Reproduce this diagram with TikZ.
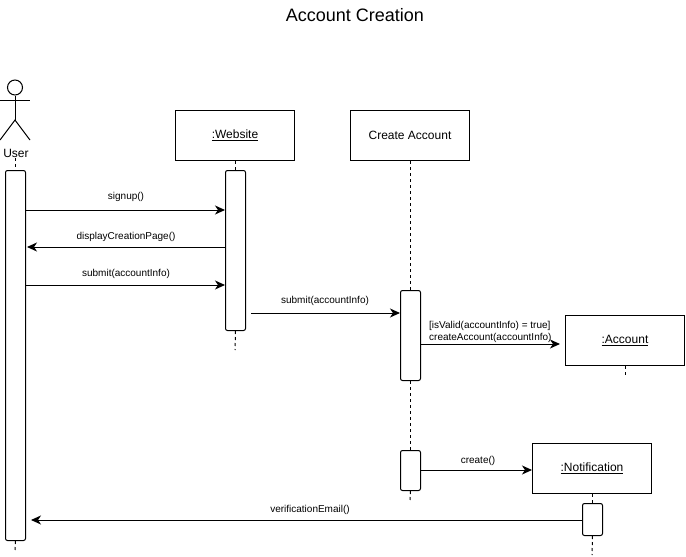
\documentclass[tikz,border=0pt]{standalone}
\usepackage{fontspec}
\setmainfont{Liberation Sans}
\usetikzlibrary{arrows.meta}
\definecolor{inkc}{HTML}{000000}
\tikzset{
  objbox/.style={draw=inkc,line width=1pt,fill=white,minimum width=119pt,minimum height=50pt,inner sep=0pt,anchor=north west,font=\fontsize{12}{14}\selectfont},
  actbar/.style={draw=inkc,line width=1pt,fill=white,rounded corners=2pt,minimum width=20pt,inner sep=0pt,anchor=north west},
  lifeline/.style={draw=inkc,line width=1pt,dash pattern=on 3pt off 3pt},
  msg/.style={draw=inkc,line width=1pt,-{Stealth[length=10pt,width=9pt,inset=3pt]}},
  msgtext/.style={inner sep=0pt,align=center,font=\fontsize{10}{12}\selectfont},
  actorline/.style={draw=inkc,line width=1pt}
}
\begin{document}
\begin{tikzpicture}[x=1pt,y=-1pt]
\useasboundingbox (0,0) rectangle (686,557);
\node[inner sep=0pt,font=\fontsize{18}{20}\selectfont] (title) at (355,15) {Account Creation};
% actor
\node[draw=inkc,line width=1pt,circle,minimum size=15pt,inner sep=0pt] (head) at (15,87.5) {};
\coordinate (hip) at (15,120);
\coordinate (armL) at (0,100);
\coordinate (armR) at (30,100);
\coordinate (legL) at (0,140);
\coordinate (legR) at (30,140);
\draw[actorline] (head.south) -- (hip);
\draw[actorline] (armL) -- (armR);
\draw[actorline] (legL) -- (hip) -- (legR);
\node[inner sep=0pt,font=\fontsize{12}{14}\selectfont] (user) at (16,153.5) {User};
% objects
\node[objbox] (website) at (175,110) {\raisebox{-0.7pt}{\underline{:Website}}};
\node[objbox] (create) at (350,110) {Create Account};
\node[objbox] (account) at (565,315) {\raisebox{-0.7pt}{\underline{:Account}}};
\node[objbox] (notif) at (532,443) {\raisebox{-0.7pt}{\underline{:Notification}}};
% free lifeline ends
\coordinate (uend) at (15,552);
\coordinate (wend) at (235,350);
\coordinate (cend) at (410,500);
\coordinate (aend) at (625,375);
\coordinate (nend) at (592,555);
% activation bars
\node[actbar,minimum height=370pt] (ubar) at (5,170) {};
\node[actbar,minimum height=160pt] (wbar) at (225,170) {};
\node[actbar,minimum height=90pt] (cbar1) at (400,290) {};
\node[actbar,minimum height=40pt] (cbar2) at (400,450) {};
\node[actbar,minimum height=32pt] (nbar) at (582,503) {};
% lifelines
\draw[lifeline] (user.south -| ubar.north) -- (ubar.north);
\draw[lifeline] (ubar.south) -- (uend);
\draw[lifeline] (website.south -| wbar.north) -- (wbar.north);
\draw[lifeline] (wbar.south) -- (wend);
\draw[lifeline] (create.south -| cbar1.north) -- (cbar1.north);
\draw[lifeline] (cbar1.south) -- (cbar2.north);
\draw[lifeline] (cbar2.south) -- (cend);
\draw[lifeline] (account.south) -- (aend);
\draw[lifeline] (notif.south -| nbar.north) -- (nbar.north);
\draw[lifeline] (nbar.south) -- (nend);
% messages
\draw[msg] (ubar.east |- 0,210) -- (wbar.west |- 0,210);
\node[msgtext] (l1) at (126,196.5) {signup()};
\draw[msg] (wbar.west |- 0,247) -- ([xshift=1pt]ubar.east |- 0,247);
\node[msgtext] (l2) at (126,236.5) {displayCreationPage()};
\draw[msg] (ubar.east |- 0,285) -- (wbar.west |- 0,285);
\node[msgtext] (l3) at (126,274) {submit(accountInfo)};
\draw[msg] ([xshift=5pt]wbar.east |- 0,313) -- (cbar1.west |- 0,313);
\node[msgtext] (l4) at (325,301) {submit(accountInfo)};
\draw[msg] (cbar1.east |- 0,344) -- ([xshift=-5pt]account.west |- 0,344);
\node[msgtext,anchor=west] (l5) at (429,325.5) {[isValid(accountInfo) = true]};
\node[msgtext,anchor=west] (l6) at (429,337.5) {createAccount(accountInfo)};
\draw[msg] (cbar2.east |- 0,470) -- (notif.west |- 0,470);
\node[msgtext] (l7) at (478,460.5) {create()};
\draw[msg] (nbar.west |- 0,520) -- ([xshift=5pt]ubar.east |- 0,520);
\node[msgtext] (l8) at (310,509.5) {verificationEmail()};
\end{tikzpicture}
\end{document}
